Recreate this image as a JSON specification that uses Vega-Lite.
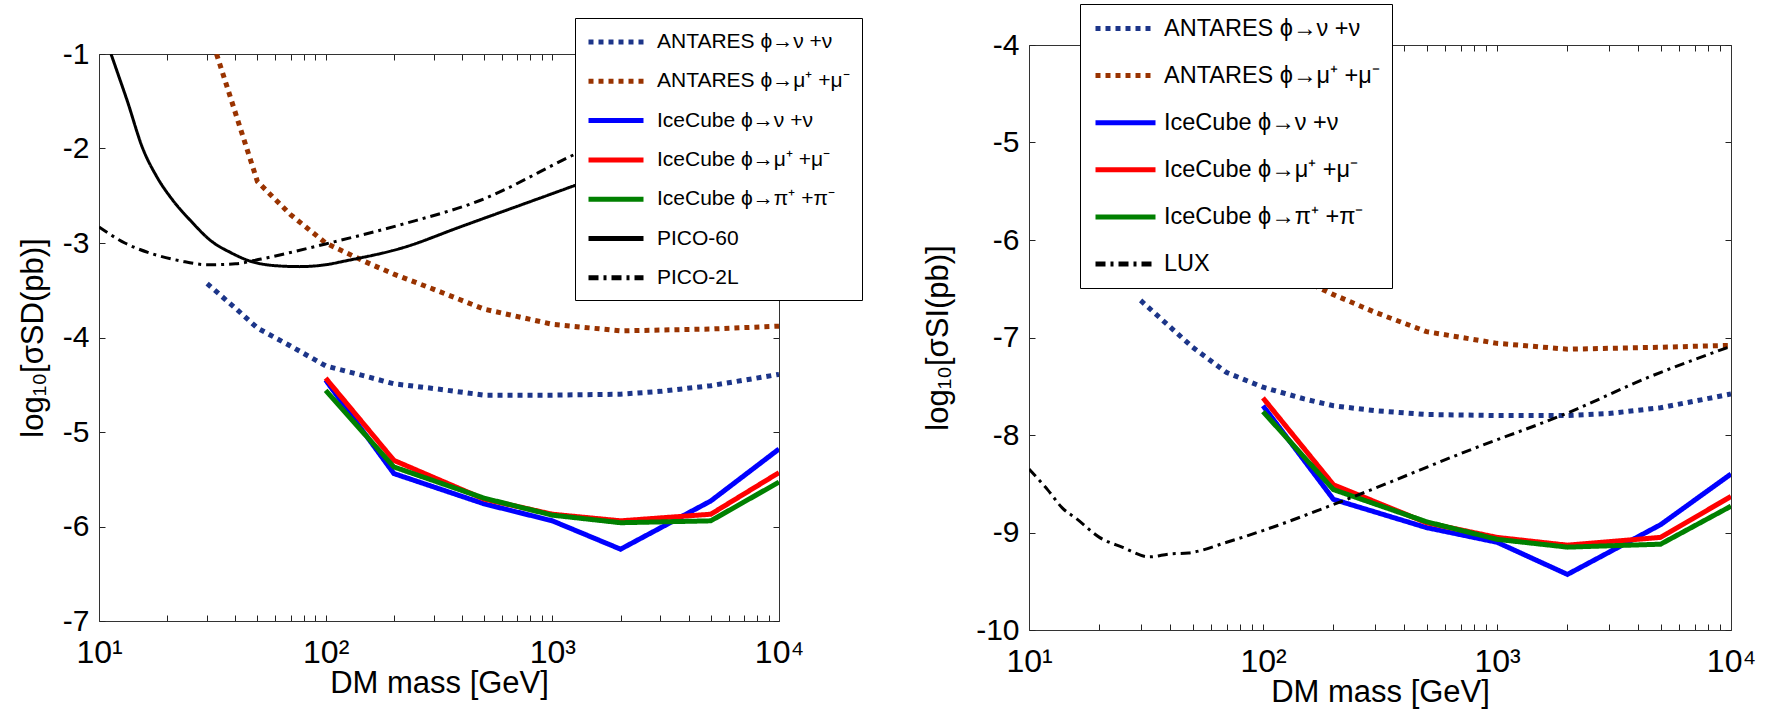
{
  "$schema": "https://vega.github.io/schema/vega-lite/v6.json",
  "background": "white",
  "padding": {"left": 17, "top": 3, "right": 5, "bottom": 2},
  "config": {
    "view": {"stroke": null},
    "font": "Liberation Sans",
    "axis": {"grid": false, "domainColor": "#333", "domainWidth": 1, "tickColor": "#222", "labelColor": "black", "titleColor": "black", "labelFont": "Liberation Sans", "titleFont": "Liberation Sans", "titleFontWeight": "normal"}
  },
  "datasets": {
    "left": [
      {"s": "ANTARES ϕ→ν +ν", "m": 30, "v": -3.43}, {"s": "ANTARES ϕ→ν +ν", "m": 40, "v": -3.69}, {"s": "ANTARES ϕ→ν +ν", "m": 50, "v": -3.90}, {"s": "ANTARES ϕ→ν +ν", "m": 70, "v": -4.09}, {"s": "ANTARES ϕ→ν +ν", "m": 100, "v": -4.30}, {"s": "ANTARES ϕ→ν +ν", "m": 150, "v": -4.41}, {"s": "ANTARES ϕ→ν +ν", "m": 200, "v": -4.49}, {"s": "ANTARES ϕ→ν +ν", "m": 300, "v": -4.54}, {"s": "ANTARES ϕ→ν +ν", "m": 500, "v": -4.61}, {"s": "ANTARES ϕ→ν +ν", "m": 1000, "v": -4.61}, {"s": "ANTARES ϕ→ν +ν", "m": 2000, "v": -4.60}, {"s": "ANTARES ϕ→ν +ν", "m": 3000, "v": -4.57}, {"s": "ANTARES ϕ→ν +ν", "m": 5000, "v": -4.51}, {"s": "ANTARES ϕ→ν +ν", "m": 10000, "v": -4.39},
      {"s": "ANTARES ϕ→μ⁺ +μ⁻", "m": 33, "v": -1.0}, {"s": "ANTARES ϕ→μ⁺ +μ⁻", "m": 50, "v": -2.35}, {"s": "ANTARES ϕ→μ⁺ +μ⁻", "m": 70, "v": -2.70}, {"s": "ANTARES ϕ→μ⁺ +μ⁻", "m": 100, "v": -3.00}, {"s": "ANTARES ϕ→μ⁺ +μ⁻", "m": 150, "v": -3.20}, {"s": "ANTARES ϕ→μ⁺ +μ⁻", "m": 200, "v": -3.33}, {"s": "ANTARES ϕ→μ⁺ +μ⁻", "m": 300, "v": -3.49}, {"s": "ANTARES ϕ→μ⁺ +μ⁻", "m": 500, "v": -3.70}, {"s": "ANTARES ϕ→μ⁺ +μ⁻", "m": 1000, "v": -3.86}, {"s": "ANTARES ϕ→μ⁺ +μ⁻", "m": 2000, "v": -3.93}, {"s": "ANTARES ϕ→μ⁺ +μ⁻", "m": 5000, "v": -3.91}, {"s": "ANTARES ϕ→μ⁺ +μ⁻", "m": 10000, "v": -3.88},
      {"s": "IceCube ϕ→ν +ν", "m": 100, "v": -4.45}, {"s": "IceCube ϕ→ν +ν", "m": 200, "v": -5.44}, {"s": "IceCube ϕ→ν +ν", "m": 500, "v": -5.76}, {"s": "IceCube ϕ→ν +ν", "m": 1000, "v": -5.94}, {"s": "IceCube ϕ→ν +ν", "m": 2000, "v": -6.24}, {"s": "IceCube ϕ→ν +ν", "m": 5000, "v": -5.73}, {"s": "IceCube ϕ→ν +ν", "m": 10000, "v": -5.18},
      {"s": "IceCube ϕ→μ⁺ +μ⁻", "m": 100, "v": -4.43}, {"s": "IceCube ϕ→μ⁺ +μ⁻", "m": 200, "v": -5.30}, {"s": "IceCube ϕ→μ⁺ +μ⁻", "m": 500, "v": -5.71}, {"s": "IceCube ϕ→μ⁺ +μ⁻", "m": 1000, "v": -5.87}, {"s": "IceCube ϕ→μ⁺ +μ⁻", "m": 2000, "v": -5.94}, {"s": "IceCube ϕ→μ⁺ +μ⁻", "m": 5000, "v": -5.87}, {"s": "IceCube ϕ→μ⁺ +μ⁻", "m": 10000, "v": -5.43},
      {"s": "IceCube ϕ→π⁺ +π⁻", "m": 100, "v": -4.56}, {"s": "IceCube ϕ→π⁺ +π⁻", "m": 200, "v": -5.37}, {"s": "IceCube ϕ→π⁺ +π⁻", "m": 500, "v": -5.70}, {"s": "IceCube ϕ→π⁺ +π⁻", "m": 1000, "v": -5.88}, {"s": "IceCube ϕ→π⁺ +π⁻", "m": 2000, "v": -5.96}, {"s": "IceCube ϕ→π⁺ +π⁻", "m": 5000, "v": -5.94}, {"s": "IceCube ϕ→π⁺ +π⁻", "m": 10000, "v": -5.53},
      {"s": "PICO-60", "m": 11.3, "v": -1.0}, {"s": "PICO-60", "m": 12, "v": -1.18}, {"s": "PICO-60", "m": 13.3, "v": -1.49}, {"s": "PICO-60", "m": 15.6, "v": -2.0}, {"s": "PICO-60", "m": 18, "v": -2.3}, {"s": "PICO-60", "m": 21.2, "v": -2.55}, {"s": "PICO-60", "m": 25.5, "v": -2.77}, {"s": "PICO-60", "m": 31.3, "v": -2.98}, {"s": "PICO-60", "m": 38, "v": -3.10}, {"s": "PICO-60", "m": 46.2, "v": -3.19}, {"s": "PICO-60", "m": 60, "v": -3.24}, {"s": "PICO-60", "m": 76.6, "v": -3.25}, {"s": "PICO-60", "m": 100, "v": -3.23}, {"s": "PICO-60", "m": 122, "v": -3.19}, {"s": "PICO-60", "m": 219, "v": -3.05}, {"s": "PICO-60", "m": 392, "v": -2.83}, {"s": "PICO-60", "m": 1260, "v": -2.39}, {"s": "PICO-60", "m": 3000, "v": -2.06}, {"s": "PICO-60", "m": 10000, "v": -1.61},
      {"s": "PICO-2L", "m": 10, "v": -2.83}, {"s": "PICO-2L", "m": 13, "v": -3.0}, {"s": "PICO-2L", "m": 17.5, "v": -3.12}, {"s": "PICO-2L", "m": 23, "v": -3.19}, {"s": "PICO-2L", "m": 30, "v": -3.23}, {"s": "PICO-2L", "m": 40, "v": -3.22}, {"s": "PICO-2L", "m": 51.9, "v": -3.17}, {"s": "PICO-2L", "m": 70, "v": -3.10}, {"s": "PICO-2L", "m": 100, "v": -3.01}, {"s": "PICO-2L", "m": 219, "v": -2.80}, {"s": "PICO-2L", "m": 479, "v": -2.55}, {"s": "PICO-2L", "m": 1260, "v": -2.06}, {"s": "PICO-2L", "m": 10000, "v": -1.15}
    ],
    "right": [
      {"s": "ANTARES ϕ→ν +ν", "m": 30, "v": -6.62}, {"s": "ANTARES ϕ→ν +ν", "m": 40, "v": -6.89}, {"s": "ANTARES ϕ→ν +ν", "m": 50, "v": -7.10}, {"s": "ANTARES ϕ→ν +ν", "m": 70, "v": -7.36}, {"s": "ANTARES ϕ→ν +ν", "m": 100, "v": -7.51}, {"s": "ANTARES ϕ→ν +ν", "m": 150, "v": -7.63}, {"s": "ANTARES ϕ→ν +ν", "m": 200, "v": -7.70}, {"s": "ANTARES ϕ→ν +ν", "m": 300, "v": -7.75}, {"s": "ANTARES ϕ→ν +ν", "m": 500, "v": -7.79}, {"s": "ANTARES ϕ→ν +ν", "m": 1000, "v": -7.80}, {"s": "ANTARES ϕ→ν +ν", "m": 2000, "v": -7.80}, {"s": "ANTARES ϕ→ν +ν", "m": 3000, "v": -7.78}, {"s": "ANTARES ϕ→ν +ν", "m": 5000, "v": -7.72}, {"s": "ANTARES ϕ→ν +ν", "m": 10000, "v": -7.58},
      {"s": "ANTARES ϕ→μ⁺ +μ⁻", "m": 35, "v": -4.5}, {"s": "ANTARES ϕ→μ⁺ +μ⁻", "m": 50, "v": -5.55}, {"s": "ANTARES ϕ→μ⁺ +μ⁻", "m": 70, "v": -5.90}, {"s": "ANTARES ϕ→μ⁺ +μ⁻", "m": 100, "v": -6.20}, {"s": "ANTARES ϕ→μ⁺ +μ⁻", "m": 150, "v": -6.42}, {"s": "ANTARES ϕ→μ⁺ +μ⁻", "m": 200, "v": -6.56}, {"s": "ANTARES ϕ→μ⁺ +μ⁻", "m": 300, "v": -6.74}, {"s": "ANTARES ϕ→μ⁺ +μ⁻", "m": 500, "v": -6.94}, {"s": "ANTARES ϕ→μ⁺ +μ⁻", "m": 1000, "v": -7.06}, {"s": "ANTARES ϕ→μ⁺ +μ⁻", "m": 2000, "v": -7.12}, {"s": "ANTARES ϕ→μ⁺ +μ⁻", "m": 5000, "v": -7.10}, {"s": "ANTARES ϕ→μ⁺ +μ⁻", "m": 10000, "v": -7.08},
      {"s": "IceCube ϕ→ν +ν", "m": 100, "v": -7.70}, {"s": "IceCube ϕ→ν +ν", "m": 200, "v": -8.66}, {"s": "IceCube ϕ→ν +ν", "m": 500, "v": -8.95}, {"s": "IceCube ϕ→ν +ν", "m": 1000, "v": -9.10}, {"s": "IceCube ϕ→ν +ν", "m": 2000, "v": -9.43}, {"s": "IceCube ϕ→ν +ν", "m": 5000, "v": -8.92}, {"s": "IceCube ϕ→ν +ν", "m": 10000, "v": -8.40},
      {"s": "IceCube ϕ→μ⁺ +μ⁻", "m": 100, "v": -7.62}, {"s": "IceCube ϕ→μ⁺ +μ⁻", "m": 200, "v": -8.51}, {"s": "IceCube ϕ→μ⁺ +μ⁻", "m": 500, "v": -8.90}, {"s": "IceCube ϕ→μ⁺ +μ⁻", "m": 1000, "v": -9.05}, {"s": "IceCube ϕ→μ⁺ +μ⁻", "m": 2000, "v": -9.13}, {"s": "IceCube ϕ→μ⁺ +μ⁻", "m": 5000, "v": -9.05}, {"s": "IceCube ϕ→μ⁺ +μ⁻", "m": 10000, "v": -8.63},
      {"s": "IceCube ϕ→π⁺ +π⁻", "m": 100, "v": -7.76}, {"s": "IceCube ϕ→π⁺ +π⁻", "m": 200, "v": -8.56}, {"s": "IceCube ϕ→π⁺ +π⁻", "m": 500, "v": -8.89}, {"s": "IceCube ϕ→π⁺ +π⁻", "m": 1000, "v": -9.07}, {"s": "IceCube ϕ→π⁺ +π⁻", "m": 2000, "v": -9.15}, {"s": "IceCube ϕ→π⁺ +π⁻", "m": 5000, "v": -9.12}, {"s": "IceCube ϕ→π⁺ +π⁻", "m": 10000, "v": -8.73},
      {"s": "LUX", "m": 10, "v": -8.35}, {"s": "LUX", "m": 12, "v": -8.56}, {"s": "LUX", "m": 13.9, "v": -8.75}, {"s": "LUX", "m": 16, "v": -8.86}, {"s": "LUX", "m": 20, "v": -9.05}, {"s": "LUX", "m": 25, "v": -9.15}, {"s": "LUX", "m": 32.7, "v": -9.25}, {"s": "LUX", "m": 40, "v": -9.22}, {"s": "LUX", "m": 48, "v": -9.21}, {"s": "LUX", "m": 70, "v": -9.10}, {"s": "LUX", "m": 100, "v": -8.98}, {"s": "LUX", "m": 217, "v": -8.68}, {"s": "LUX", "m": 755, "v": -8.16}, {"s": "LUX", "m": 2020, "v": -7.77}, {"s": "LUX", "m": 4420, "v": -7.41}, {"s": "LUX", "m": 10000, "v": -7.09}
    ]
  },
  "bounds": "flush",
  "center": true,
  "spacing": 250,
  "resolve": {"scale": {"color": "independent", "strokeDash": "independent"}, "legend": {"color": "independent", "strokeDash": "independent"}},
  "hconcat": [
    {
      "width": 680, "height": 567,
      "data": {"name": "left"},
      "layer": [
        {
          "transform": [{"filter": {"field": "s", "oneOf": ["ANTARES ϕ→ν +ν", "ANTARES ϕ→μ⁺ +μ⁻", "IceCube ϕ→ν +ν", "IceCube ϕ→μ⁺ +μ⁻", "IceCube ϕ→π⁺ +π⁻"]}}],
          "mark": {"type": "line", "clip": true, "strokeWidth": 5, "strokeCap": "butt"},
          "encoding": {
            "x": {"field": "m", "type": "quantitative", "scale": {"type": "log", "domain": [10, 10000], "nice": false},
              "axis": {"orient": "bottom", "title": "DM mass [GeV]", "values": [10,20,30,40,50,60,70,80,90,100,200,300,400,500,600,700,800,900,1000,2000,3000,4000,5000,6000,7000,8000,9000,10000], "labelExpr": "datum.value == 10 ? '10¹' : datum.value == 100 ? '10²' : datum.value == 1000 ? '10³' : datum.value == 10000 ? '10⁴' : ''", "labelOverlap": false, "labelFlush": false, "tickSize": -6, "labelPadding": 22, "labelFontSize": 32, "titleFontSize": 31, "titlePadding": 0}},
            "y": {"field": "v", "type": "quantitative", "scale": {"domain": [-7, -1], "nice": false, "zero": false},
              "axis": {"orient": "left", "title": "log₁₀[σSD(pb)]", "values": [-7,-6,-5,-4,-3,-2,-1], "labelExpr": "datum.value < 0 ? '-' + abs(datum.value) : '' + datum.value", "tickSize": -6, "labelPadding": 16, "labelFontSize": 30, "titleFontSize": 31, "titlePadding": 13, "labelFlush": false}},
            "color": {"field": "s", "type": "nominal",
              "scale": {"domain": ["ANTARES ϕ→ν +ν", "ANTARES ϕ→μ⁺ +μ⁻", "IceCube ϕ→ν +ν", "IceCube ϕ→μ⁺ +μ⁻", "IceCube ϕ→π⁺ +π⁻", "PICO-60", "PICO-2L"], "range": ["#1c3589", "#993300", "#0000ff", "#ff0000", "#008000", "#000000", "#000000"]},
              "legend": {"orient": "none", "legendX": 476, "legendY": -36, "title": null, "padding": 11.5, "strokeColor": "black", "fillColor": "white", "cornerRadius": 0, "labelFont": "Liberation Sans", "labelFontSize": 21, "labelColor": "black", "labelLimit": 500, "rowPadding": 16.3, "symbolOffset": 0, "labelOffset": 45.5, "symbolType": "M-1.05,0H4.45", "symbolSize": 400, "symbolStrokeWidth": 5}},
            "strokeDash": {"field": "s", "type": "nominal",
              "scale": {"domain": ["ANTARES ϕ→ν +ν", "ANTARES ϕ→μ⁺ +μ⁻", "IceCube ϕ→ν +ν", "IceCube ϕ→μ⁺ +μ⁻", "IceCube ϕ→π⁺ +π⁻", "PICO-60", "PICO-2L"], "range": [[5,5],[5,5],[1,0],[1,0],[1,0],[1,0],[10,5,3,5]]},
              "legend": {"orient": "none", "legendX": 476, "legendY": -36, "title": null, "padding": 11.5, "strokeColor": "black", "fillColor": "white", "cornerRadius": 0, "labelFont": "Liberation Sans", "labelFontSize": 21, "labelColor": "black", "labelLimit": 500, "rowPadding": 16.3, "symbolOffset": 0, "labelOffset": 45.5, "symbolType": "M-1.05,0H4.45", "symbolSize": 400, "symbolStrokeWidth": 5}}
          }
        },
        {
          "transform": [{"filter": {"field": "s", "oneOf": ["PICO-60", "PICO-2L"]}}],
          "mark": {"type": "line", "clip": true, "strokeWidth": 3, "strokeCap": "butt", "interpolate": "monotone"},
          "encoding": {
            "x": {"field": "m", "type": "quantitative", "axis": null},
            "y": {"field": "v", "type": "quantitative", "axis": null},
            "color": {"field": "s", "type": "nominal"},
            "strokeDash": {"field": "s", "type": "nominal"}
          }
        },
        {
          "mark": {"type": "point", "opacity": 0},
          "encoding": {
            "x": {"field": "m", "type": "quantitative", "axis": {"orient": "top", "title": null, "labels": false, "values": [10,20,30,40,50,60,70,80,90,100,200,300,400,500,600,700,800,900,1000,2000,3000,4000,5000,6000,7000,8000,9000,10000], "tickSize": -6}},
            "y": {"field": "v", "type": "quantitative", "axis": {"orient": "right", "title": null, "labels": false, "values": [-7,-6,-5,-4,-3,-2,-1], "tickSize": -6}}
          }
        }
      ],
      "resolve": {"axis": {"x": "independent", "y": "independent"}}
    },
    {
      "width": 702, "height": 585,
      "data": {"name": "right"},
      "layer": [
        {
          "transform": [{"filter": {"field": "s", "oneOf": ["ANTARES ϕ→ν +ν", "ANTARES ϕ→μ⁺ +μ⁻", "IceCube ϕ→ν +ν", "IceCube ϕ→μ⁺ +μ⁻", "IceCube ϕ→π⁺ +π⁻"]}}],
          "mark": {"type": "line", "clip": true, "strokeWidth": 5, "strokeCap": "butt"},
          "encoding": {
            "x": {"field": "m", "type": "quantitative", "scale": {"type": "log", "domain": [10, 10000], "nice": false},
              "axis": {"orient": "bottom", "title": "DM mass [GeV]", "values": [10,20,30,40,50,60,70,80,90,100,200,300,400,500,600,700,800,900,1000,2000,3000,4000,5000,6000,7000,8000,9000,10000], "labelExpr": "datum.value == 10 ? '10¹' : datum.value == 100 ? '10²' : datum.value == 1000 ? '10³' : datum.value == 10000 ? '10⁴' : ''", "labelOverlap": false, "labelFlush": false, "tickSize": -6, "labelPadding": 22, "labelFontSize": 32, "titleFontSize": 31, "titlePadding": 0}},
            "y": {"field": "v", "type": "quantitative", "scale": {"domain": [-10, -4], "nice": false, "zero": false},
              "axis": {"orient": "left", "title": "log₁₀[σSI(pb)]", "values": [-10,-9,-8,-7,-6,-5,-4], "labelExpr": "datum.value < 0 ? '-' + abs(datum.value) : '' + datum.value", "tickSize": -6, "labelPadding": 16, "labelFontSize": 30, "titleFontSize": 31, "titlePadding": 21, "labelFlush": false}},
            "color": {"field": "s", "type": "nominal",
              "scale": {"domain": ["ANTARES ϕ→ν +ν", "ANTARES ϕ→μ⁺ +μ⁻", "IceCube ϕ→ν +ν", "IceCube ϕ→μ⁺ +μ⁻", "IceCube ϕ→π⁺ +π⁻", "LUX"], "range": ["#1c3589", "#993300", "#0000ff", "#ff0000", "#008000", "#000000"]},
              "legend": {"orient": "none", "legendX": 51, "legendY": -41, "title": null, "padding": 12, "strokeColor": "black", "fillColor": "white", "cornerRadius": 0, "labelFont": "Liberation Sans", "labelFontSize": 23.5, "labelColor": "black", "labelLimit": 500, "rowPadding": 23.1, "symbolOffset": 0, "labelOffset": 47, "symbolType": "M-0.9,0H5.1", "symbolSize": 400, "symbolStrokeWidth": 5}},
            "strokeDash": {"field": "s", "type": "nominal",
              "scale": {"domain": ["ANTARES ϕ→ν +ν", "ANTARES ϕ→μ⁺ +μ⁻", "IceCube ϕ→ν +ν", "IceCube ϕ→μ⁺ +μ⁻", "IceCube ϕ→π⁺ +π⁻", "LUX"], "range": [[5,5],[5,5],[1,0],[1,0],[1,0],[10,5,3,5]]},
              "legend": {"orient": "none", "legendX": 51, "legendY": -41, "title": null, "padding": 12, "strokeColor": "black", "fillColor": "white", "cornerRadius": 0, "labelFont": "Liberation Sans", "labelFontSize": 23.5, "labelColor": "black", "labelLimit": 500, "rowPadding": 23.1, "symbolOffset": 0, "labelOffset": 47, "symbolType": "M-0.9,0H5.1", "symbolSize": 400, "symbolStrokeWidth": 5}}
          }
        },
        {
          "transform": [{"filter": {"field": "s", "oneOf": ["LUX"]}}],
          "mark": {"type": "line", "clip": true, "strokeWidth": 3, "strokeCap": "butt", "interpolate": "monotone"},
          "encoding": {
            "x": {"field": "m", "type": "quantitative", "axis": null},
            "y": {"field": "v", "type": "quantitative", "axis": null},
            "color": {"field": "s", "type": "nominal"},
            "strokeDash": {"field": "s", "type": "nominal"}
          }
        },
        {
          "mark": {"type": "point", "opacity": 0},
          "encoding": {
            "x": {"field": "m", "type": "quantitative", "axis": {"orient": "top", "title": null, "labels": false, "values": [10,20,30,40,50,60,70,80,90,100,200,300,400,500,600,700,800,900,1000,2000,3000,4000,5000,6000,7000,8000,9000,10000], "tickSize": -6}},
            "y": {"field": "v", "type": "quantitative", "axis": {"orient": "right", "title": null, "labels": false, "values": [-10,-9,-8,-7,-6,-5,-4], "tickSize": -6}}
          }
        }
      ],
      "resolve": {"axis": {"x": "independent", "y": "independent"}}
    }
  ]
}
